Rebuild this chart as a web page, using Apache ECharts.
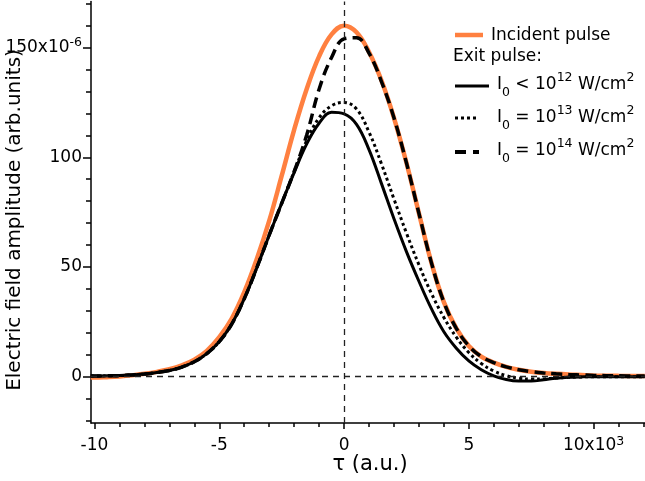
<!DOCTYPE html>
<html>
<head>
<meta charset="utf-8">
<script src="https://cdn.jsdelivr.net/npm/echarts@6/dist/echarts.min.js"></script>
<style>
  html, body { margin: 0; padding: 0; background: #fff; }
  #chart { width: 645px; height: 481px; }
</style>
</head>
<body>
<div id="chart"></div>
<script>
// Delay axis (units of 10^3 a.u.)
const tau = [-10.15, -10, -9.5, -9, -8.5, -8, -7.5, -7, -6.5, -6, -5.5, -5, -4.5, -4, -3.5, -3, -2.5, -2, -1.5, -1, -0.5,
  0, 0.5, 1, 1.5, 2, 2.5, 3, 3.5, 4, 4.5, 5, 5.5, 6, 6.5, 7, 7.5, 8, 8.5, 9, 9.5, 10, 11, 12.05];

// Field amplitudes (units of 10^-6)
const incident = [-0.4, -0.4, -0.2, 0.1, 0.6, 1.3, 2.2, 3.4, 5.2, 7.8, 11.8, 18, 26.5, 38.5, 53.5, 71, 91.5, 112.5, 131, 146, 156,
  160, 157, 148, 135, 118, 97.5, 74.5, 52, 34, 22, 14, 9.2, 6.4, 4.5, 3.2, 2.3, 1.7, 1.3, 1.0, 0.8, 0.6, 0.4, 0.3];
const exitLow = [0.3, 0.3, 0.4, 0.5, 0.8, 1.2, 1.9, 2.8, 4.4, 6.8, 10.5, 16, 24, 35.5, 49.5, 64.5, 79, 93, 106, 115.5, 120.5,
  119.8, 115, 103.5, 88, 72, 57, 43.5, 31, 20.5, 13, 7.2, 3.2, 0.4, -1.3, -2, -2, -1.4, -0.7, -0.3, -0.1, 0, 0, 0];
const exit13 = [0.3, 0.3, 0.4, 0.5, 0.8, 1.2, 1.9, 2.8, 4.4, 6.8, 10.5, 16, 24, 35.5, 49.5, 64.5, 79, 93.5, 107.5, 118, 123.5,
  125, 122, 111.5, 97, 81, 65.5, 51, 38, 27, 18, 11, 6, 2.6, 0.5, -0.7, -1.1, -1, -0.6, -0.3, -0.1, 0, 0, 0];
const exit14 = [0.3, 0.3, 0.4, 0.5, 0.8, 1.2, 1.9, 2.8, 4.4, 6.8, 10.5, 16, 24, 35.5, 49.5, 64.5, 79, 93.5, 110, 131, 145.5,
  154, 154.5, 147.5, 134.5, 118, 97.5, 74.5, 52, 34, 22, 14, 9.2, 6.4, 4.5, 3.2, 2.3, 1.7, 1.3, 1.0, 0.8, 0.6, 0.4, 0.3];

// Tick positions
const xMajorTicks = [-10, -5, 0, 5, 10];
const xMinorTicks = [-9, -8, -7, -6, -4, -3, -2, -1, 1, 2, 3, 4, 6, 7, 8, 9, 11, 12];
const yMajorTicks = [0, 50, 100, 150];
const yMinorTicks = [-20, -10, 10, 20, 30, 40, 60, 70, 80, 90, 110, 120, 130, 140, 160, 170];

const FONT = 'DejaVu Sans';
const ORANGE = '#FF8040';
const X_MIN = -10.14, X_MAX = 12.06, Y_MIN = -21.1, Y_MAX = 171;

const pairs = ys => tau.map((t, i) => [t, ys[i]]);

const supRich = {
  sup: { fontSize: 12.5, lineHeight: 12, verticalAlign: 'top', fontFamily: FONT, color: '#000' }
};

const axisLineStyle = { color: '#000', width: 1.5 };

// shared curve settings: smooth spline through the sampled points
const curve = { type: 'line', showSymbol: false, smooth: 0.4, smoothConstraint: false };

const chart = echarts.init(document.getElementById('chart'), null, { renderer: 'canvas' });

chart.setOption({
  animation: false,
  backgroundColor: '#fff',
  grid: { left: 91, right: 0, top: 1.5, bottom: 58, containLabel: false },
  xAxis: [
    {
      type: 'value', min: X_MIN, max: X_MAX, position: 'bottom',
      axisLine: { show: true, onZero: false, lineStyle: axisLineStyle },
      axisTick: { show: true, customValues: xMajorTicks, length: 6, lineStyle: axisLineStyle },
      axisLabel: {
        customValues: xMajorTicks, margin: 12,
        fontFamily: FONT, fontSize: 17, color: '#000', lineHeight: 22,
        formatter: v => (v === 10 ? '10x10{sup|3}' : String(v)),
        rich: supRich
      },
      splitLine: { show: false }, minorTick: { show: false }
    },
    {
      type: 'value', min: X_MIN, max: X_MAX, position: 'bottom',
      axisLine: { show: false, onZero: false },
      axisTick: { show: true, customValues: xMinorTicks, length: 4, lineStyle: axisLineStyle },
      axisLabel: { show: false }, splitLine: { show: false }
    }
  ],
  yAxis: [
    {
      type: 'value', min: Y_MIN, max: Y_MAX, position: 'left',
      axisLine: { show: true, onZero: false, lineStyle: axisLineStyle },
      axisTick: { show: true, customValues: yMajorTicks, length: 8, lineStyle: axisLineStyle },
      axisLabel: {
        customValues: yMajorTicks, margin: 9,
        fontFamily: FONT, fontSize: 17, color: '#000', lineHeight: 22,
        formatter: v => (v === 150 ? '150x10{sup|-6}' : String(v)),
        rich: supRich
      },
      splitLine: { show: false }, minorTick: { show: false }
    },
    {
      type: 'value', min: Y_MIN, max: Y_MAX, position: 'left',
      axisLine: { show: false, onZero: false },
      axisTick: { show: true, customValues: yMinorTicks, length: 5, lineStyle: axisLineStyle },
      axisLabel: { show: false }, splitLine: { show: false }
    }
  ],
  series: [
    {
      // zero reference lines
      type: 'line', data: [], z: 1, silent: true,
      markLine: {
        silent: true, symbol: 'none', label: { show: false },
        lineStyle: { color: '#222', width: 1.3, type: [6, 5] },
        data: [{ xAxis: 0 }, { yAxis: 0 }]
      }
    },
    Object.assign({}, curve, {
      name: 'Incident pulse', data: pairs(incident), z: 2,
      lineStyle: { color: ORANGE, width: 4.5 }
    }),
    Object.assign({}, curve, {
      name: 'I0 = 10^14', data: pairs(exit14), z: 3,
      lineStyle: { color: '#000', width: 3.5, type: [11, 6] }
    }),
    Object.assign({}, curve, {
      name: 'I0 = 10^13', data: pairs(exit13), z: 3,
      lineStyle: { color: '#000', width: 3, type: [3, 3] }
    }),
    Object.assign({}, curve, {
      name: 'I0 < 10^12', data: pairs(exitLow), z: 4,
      lineStyle: { color: '#000', width: 3 }
    })
  ],
  graphic: [
    {
      type: 'text', x: 15, y: 220, rotation: Math.PI / 2,
      style: { text: 'Electric field amplitude (arb.units)', fontFamily: FONT, fontSize: 20, fill: '#000',
        align: 'center', verticalAlign: 'middle' }
    },
    {
      type: 'text', x: 370, y: 465,
      style: { text: 'τ (a.u.)', fontFamily: FONT, fontSize: 21, fill: '#000',
        align: 'center', verticalAlign: 'middle' }
    },
    // legend
    { type: 'line', shape: { x1: 455, y1: 35, x2: 483, y2: 35 }, style: { stroke: ORANGE, lineWidth: 4.5 } },
    { type: 'text', x: 491, y: 36, style: { text: 'Incident pulse', fontFamily: FONT, fontSize: 17, fill: '#000', verticalAlign: 'middle' } },
    { type: 'text', x: 453, y: 57, style: { text: 'Exit pulse:', fontFamily: FONT, fontSize: 17, fill: '#000', verticalAlign: 'middle' } },
    { type: 'line', shape: { x1: 455, y1: 86, x2: 489, y2: 86 }, style: { stroke: '#000', lineWidth: 3 } },
    { type: 'line', shape: { x1: 455, y1: 118, x2: 479, y2: 118 }, style: { stroke: '#000', lineWidth: 3, lineDash: [3, 3] } },
    { type: 'line', shape: { x1: 455, y1: 152, x2: 479, y2: 152 }, style: { stroke: '#000', lineWidth: 4, lineDash: [11, 7] } },
    ...[
      { y: 85, text: 'I{sub|0} < 10{sup|12} W/cm{sup|2}' },
      { y: 118, text: 'I{sub|0} = 10{sup|13} W/cm{sup|2}' },
      { y: 151, text: 'I{sub|0} = 10{sup|14} W/cm{sup|2}' }
    ].map(row => ({
      type: 'text', x: 497, y: row.y,
      style: {
        text: row.text, fontFamily: FONT, fontSize: 17, lineHeight: 28, fill: '#000', verticalAlign: 'middle',
        rich: {
          sup: { fontSize: 12.5, lineHeight: 14, verticalAlign: 'top', fontFamily: FONT, fill: '#000' },
          sub: { fontSize: 12.5, lineHeight: 11, verticalAlign: 'bottom', fontFamily: FONT, fill: '#000' }
        }
      }
    }))
  ]
});
</script>
</body>
</html>
